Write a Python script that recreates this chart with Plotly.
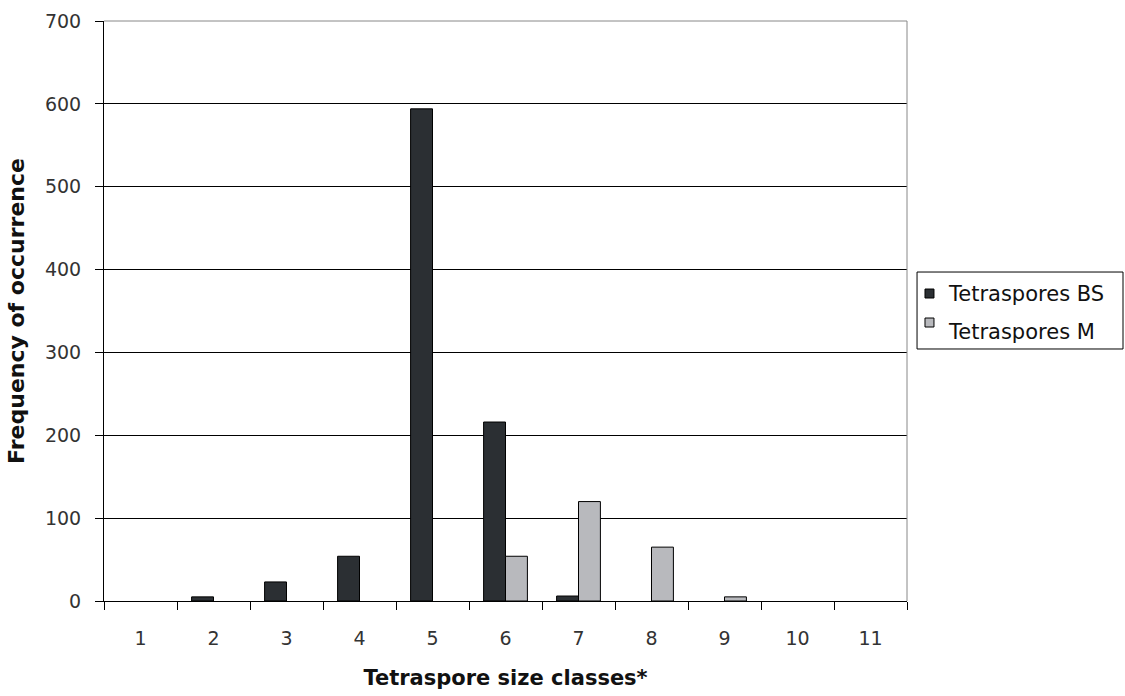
import plotly.graph_objects as go

categories = ["1", "2", "3", "4", "5", "6", "7", "8", "9", "10", "11"]
series_names = ["Tetraspores BS", "Tetraspores M"]
bs_values = [0, 5, 23, 54, 594, 216, 6, 0, 0, 0, 0]
m_values = [0, 0, 0, 0, 0, 54, 120, 65, 5, 0, 0]
colors = ["#2b2f33", "#b8b9bd"]

def hide_zero(vals):
    return [v if v else None for v in vals]

fig = go.Figure()
for name, vals, col in zip(series_names, [bs_values, m_values], colors):
    fig.add_trace(go.Bar(x=categories, y=hide_zero(vals), name=name,
                         marker=dict(color=col, line=dict(color="#000000", width=1))))

FONT = "DejaVu Sans, Arial, sans-serif"
fig.update_layout(
    width=1125, height=696,
    margin=dict(l=104, r=218, t=21, b=95, autoexpand=False),
    paper_bgcolor="white", plot_bgcolor="white",
    barmode="group", bargap=0.4, bargroupgap=0,
    showlegend=False,
    font=dict(family=FONT, size=19, color="#333"),
    xaxis=dict(type="category", showline=True, linecolor="#000", linewidth=1,
               ticks="outside", tickson="boundaries", ticklen=8, tickcolor="#000",
               showgrid=False, automargin=False, ticklabelstandoff=20,
               title=dict(text="<b>Tetraspore size classes*</b>", font=dict(size=21, color="#111"), standoff=22),
               tickfont=dict(size=19)),
    yaxis=dict(range=[0, 700], dtick=100, showline=True, linecolor="#000", linewidth=1,
               ticks="outside", ticklen=8, tickcolor="#000", automargin=False,
               ticklabelstandoff=10,
               showgrid=True, gridcolor="#000", gridwidth=1, zeroline=False,
               title=dict(text="<b>Frequency of occurrence</b>", font=dict(size=22, color="#111"), standoff=14),
               tickfont=dict(size=19)),
)
# plot frame (top and right, grey)
fig.add_shape(type="line", xref="paper", yref="paper", x0=0, x1=1, y0=1, y1=1,
              line=dict(color="#888", width=1))
fig.add_shape(type="line", xref="paper", yref="paper", x0=1, x1=1, y0=0, y1=1,
              line=dict(color="#888", width=1))

# legend box drawn as shapes + text
fig.add_shape(type="rect", xref="paper", yref="paper", x0=1.0125, x1=1.269, y0=0.4345, y1=0.5672,
              line=dict(color="#000", width=1), fillcolor="white")
legend_rows = [(0.530, 0.5224, 0.5379), (0.4638, 0.4724, 0.4879)]
for name, col, (ty, sy0, sy1) in zip(series_names, colors, legend_rows):
    fig.add_shape(type="rect", xref="paper", yref="paper", x0=1.0224, x1=1.0336, y0=sy0, y1=sy1,
                  line=dict(color="#000", width=1), fillcolor=col)
    fig.add_annotation(xref="paper", yref="paper", x=1.0485, y=ty, xanchor="left", yanchor="middle",
                       text=name, showarrow=False, font=dict(size=21, color="#111"))

fig.write_html("out.html",
               config={"displayModeBar": False, "staticPlot": True},
               post_script="document.body.style.margin='0';document.documentElement.style.overflow='hidden';document.body.style.overflow='hidden';")
